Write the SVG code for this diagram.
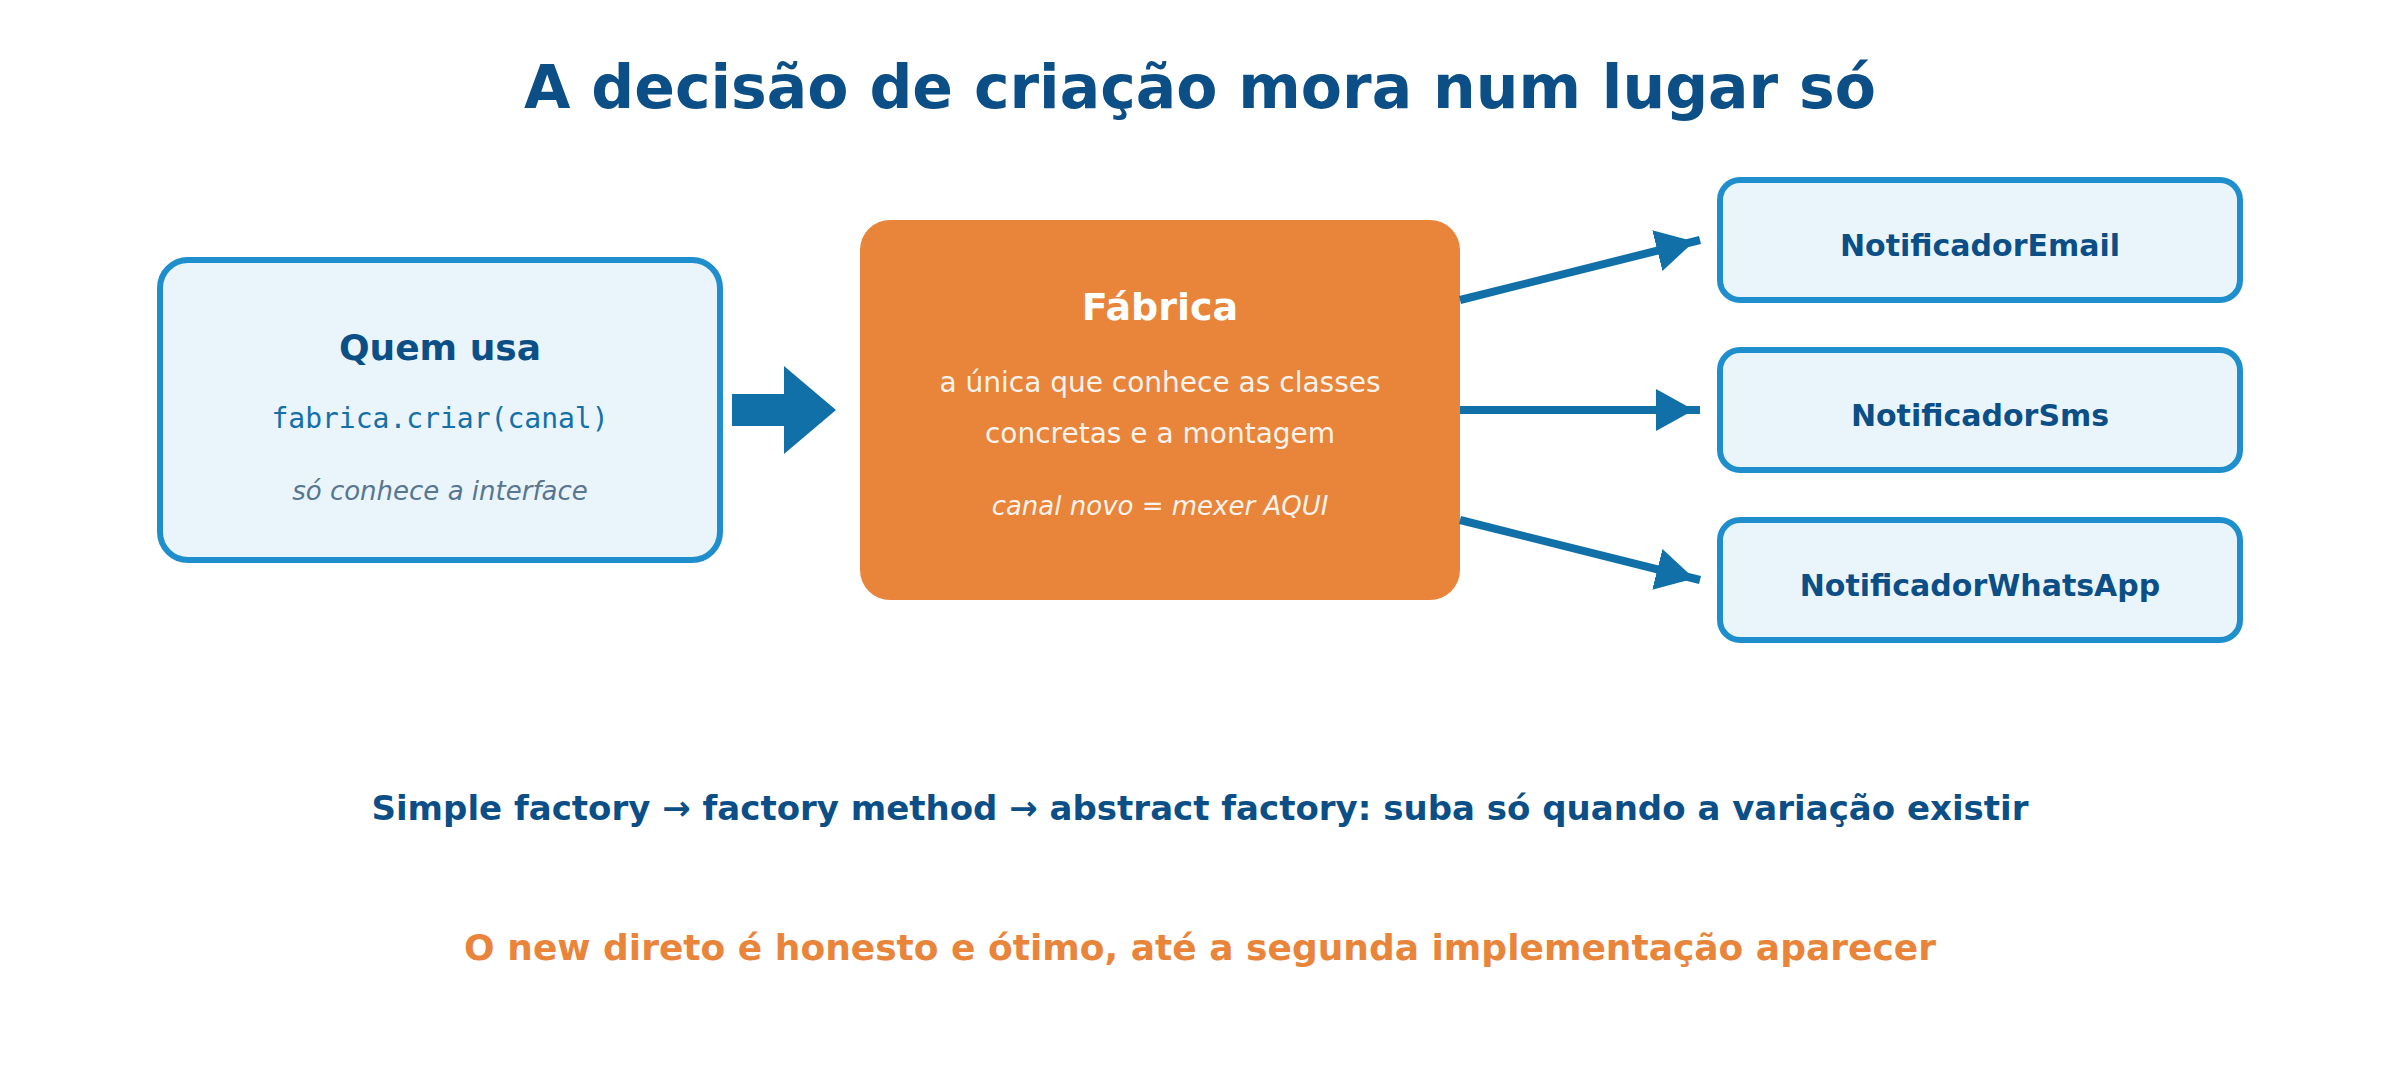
<svg xmlns="http://www.w3.org/2000/svg" width="2400" height="1080" viewBox="0 0 2400 1080">
  <defs>
    <marker id="head" markerUnits="userSpaceOnUse" markerWidth="46" markerHeight="42" viewBox="0 0 46 42" refX="44" refY="21" orient="auto">
      <path d="M0,0 L38,21 L0,42 z" fill="#1170A8"/>
    </marker>
    <style>
      .sans { font-family: "DejaVu Sans", "Noto Sans", sans-serif; }
      .mono { font-family: "DejaVu Sans Mono", "Liberation Mono", monospace; }
      .title { font-size: 60px; font-weight: bold; fill: #0B4F86; }
      .client { fill: #EAF5FB; stroke: #1E8FCC; stroke-width: 6; }
      .impl { fill: #EAF5FB; stroke: #1E8FCC; stroke-width: 6; }
      .head { font-weight: bold; fill: #0B4F86; }
      .conn { stroke: #1170A8; stroke-width: 8; fill: none; }
      .white { fill: #FFFFFF; }
    </style>
  </defs>
  <rect width="2400" height="1080" fill="#FFFFFF"/>

  <text class="sans title" x="1200" y="108" text-anchor="middle">A decisão de criação mora num lugar só</text>

  <g id="quem-usa">
    <rect class="client" x="160" y="260" width="560" height="300" rx="28"/>
    <text class="sans head" x="440" y="360" font-size="36" text-anchor="middle">Quem usa</text>
    <text class="mono" x="440" y="428" font-size="28" fill="#1570A8" text-anchor="middle">fabrica.criar(canal)</text>
    <text class="sans" x="440" y="500" font-size="26" font-style="italic" fill="#587690" text-anchor="middle">só conhece a interface</text>
  </g>

  <g id="fabrica">
    <rect x="860" y="220" width="600" height="380" rx="30" fill="#E8853B"/>
    <text class="sans white" x="1160" y="320" font-size="38" font-weight="bold" text-anchor="middle">Fábrica</text>
    <text class="sans white" x="1160" y="392" font-size="28" fill-opacity="0.92" text-anchor="middle">a única que conhece as classes</text>
    <text class="sans white" x="1160" y="443" font-size="28" fill-opacity="0.92" text-anchor="middle">concretas e a montagem</text>
    <text class="sans white" x="1160" y="515" font-size="26" font-style="italic" fill-opacity="0.92" text-anchor="middle">canal novo = mexer AQUI</text>
  </g>

  <g id="email">
    <rect class="impl" x="1720" y="180" width="520" height="120" rx="20"/>
    <text class="sans head" x="1980" y="256" font-size="30" text-anchor="middle">NotificadorEmail</text>
  </g>
  <g id="sms">
    <rect class="impl" x="1720" y="350" width="520" height="120" rx="20"/>
    <text class="sans head" x="1980" y="426" font-size="30" text-anchor="middle">NotificadorSms</text>
  </g>
  <g id="whatsapp">
    <rect class="impl" x="1720" y="520" width="520" height="120" rx="20"/>
    <text class="sans head" x="1980" y="596" font-size="30" text-anchor="middle">NotificadorWhatsApp</text>
  </g>

  <g id="connectors">
    <polygon points="732,394 784,394 784,366 836,410 784,454 784,426 732,426" fill="#1170A8"/>
    <line class="conn" x1="1460" y1="300" x2="1700" y2="240" marker-end="url(#head)"/>
    <line class="conn" x1="1460" y1="410" x2="1700" y2="410" marker-end="url(#head)"/>
    <line class="conn" x1="1460" y1="520" x2="1700" y2="580" marker-end="url(#head)"/>
  </g>

  <text class="sans" x="1200" y="820" font-size="34" font-weight="bold" fill="#0B4F86" text-anchor="middle">Simple factory → factory method → abstract factory: suba só quando a variação existir</text>
  <text class="sans" x="1200" y="960" font-size="36" font-weight="bold" fill="#E8853B" text-anchor="middle">O new direto é honesto e ótimo, até a segunda implementação aparecer</text>
</svg>
